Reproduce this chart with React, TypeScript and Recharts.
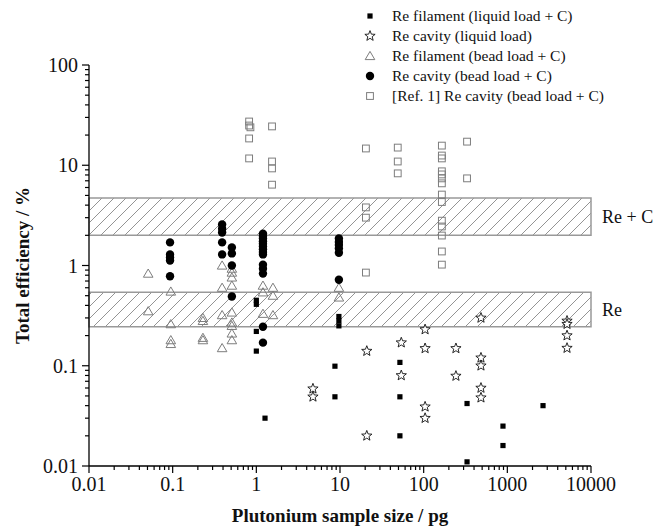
import React from 'react';
import { ScatterChart, Scatter, XAxis, YAxis, ReferenceArea, Legend } from 'recharts';

const FONT = '"Liberation Serif", "Times New Roman", serif';

// tick labels
const xTickLabels = ['0.01', '0.1', '1', '10', '100', '1000', '10000'];
const yTickLabels = ['0.01', '0.1', '1', '10', '100'];

// efficiency bands (%)
const reCBand = [2.0, 4.7];
const reBand = [0.245, 0.54];

// [sample size pg, efficiency %]
const filamentLiquid = [
  [1.0, 0.45], [1.0, 0.41], [1.0, 0.22], [1.0, 0.14], [1.27, 0.03],
  [8.7, 0.099], [8.7, 0.049], [9.7, 0.31], [9.7, 0.28], [9.7, 0.25],
  [52, 0.108], [52, 0.049], [52, 0.02], [330, 0.042], [330, 0.011],
  [887, 0.025], [887, 0.016], [2670, 0.04],
];
const cavityLiquid = [
  [4.75, 0.059], [4.75, 0.049], [20.9, 0.14], [20.9, 0.02], [54, 0.17], [54, 0.08],
  [104, 0.23], [104, 0.149], [104, 0.039], [104, 0.03], [243, 0.149], [243, 0.079],
  [484, 0.3], [484, 0.12], [484, 0.1], [484, 0.06], [484, 0.048],
  [5170, 0.28], [5170, 0.26], [5170, 0.2], [5170, 0.15],
];
const filamentBead = [
  [0.051, 0.83], [0.051, 0.35],
  [0.095, 0.55], [0.095, 0.26], [0.095, 0.18], [0.095, 0.165],
  [0.23, 0.3], [0.23, 0.28], [0.23, 0.19], [0.23, 0.18],
  [0.39, 1.0], [0.39, 0.6], [0.39, 0.32], [0.39, 0.15],
  [0.51, 0.93], [0.51, 0.85], [0.51, 0.76], [0.51, 0.63], [0.51, 0.34], [0.51, 0.27],
  [0.51, 0.25], [0.51, 0.21], [0.51, 0.18],
  [1.2, 0.63], [1.2, 0.54], [1.2, 0.33], [1.58, 0.6], [1.58, 0.5], [1.58, 0.32],
  [9.7, 0.6], [9.7, 0.48],
];
const cavityBead = [
  [0.093, 1.7], [0.093, 1.29], [0.093, 1.2], [0.093, 1.12], [0.093, 0.78],
  [0.39, 2.56], [0.39, 2.33], [0.39, 2.13], [0.39, 1.7], [0.39, 1.29],
  [0.51, 1.51], [0.51, 1.32], [0.51, 1.0], [0.51, 0.49],
  [1.2, 2.08], [1.2, 1.97], [1.2, 1.86], [1.2, 1.75], [1.2, 1.65], [1.2, 1.55], [1.2, 1.45],
  [1.2, 1.36], [1.2, 1.29], [1.2, 1.02], [1.2, 0.93], [1.2, 0.83], [1.2, 0.245], [1.2, 0.17],
  [9.7, 1.86], [9.7, 1.72], [9.7, 1.6], [9.7, 1.48], [9.7, 1.34], [9.7, 0.72],
];
const ref1Cavity = [
  [0.82, 27.3], [0.82, 24.9], [0.85, 23.9], [0.82, 18.5], [0.82, 11.7],
  [1.54, 24.4], [1.54, 10.9], [1.54, 9.3], [1.54, 6.4],
  [20.4, 14.7], [20.4, 3.8], [20.4, 3.0], [20.4, 0.85],
  [49, 15.0], [49, 10.9], [49, 8.3],
  [165, 15.7], [165, 12.5], [165, 11.7], [165, 8.7], [165, 8.1], [165, 7.4], [165, 6.6],
  [165, 5.1], [165, 4.3], [165, 2.8], [165, 2.45], [165, 1.99], [165, 1.38], [165, 1.02],
  [330, 17.2], [330, 7.4],
];

const toRows = (arr: number[][]) => arr.map(([x, y]) => ({ x, y }));

function logTicks(labels: string[]) {
  const out: number[] = [];
  labels.forEach((l, i) => {
    const base = Number(l);
    if (i === labels.length - 1) { out.push(base); return; }
    for (let m = 1; m < 10; m++) out.push(Number((base * m).toPrecision(3)));
  });
  return out;
}

const GRAY = '#7d7d7d';
const txt = { fontFamily: FONT };

const starPath = (cx: number, cy: number, ro: number, ri: number) => {
  let d = '';
  for (let i = 0; i < 10; i++) {
    const r = i % 2 === 0 ? ro : ri;
    const a = -Math.PI / 2 + (i * Math.PI) / 5;
    d += (i === 0 ? 'M' : 'L') + (cx + r * Math.cos(a)).toFixed(2) + ',' + (cy + r * Math.sin(a)).toFixed(2);
  }
  return d + 'Z';
};

const Marker = ({ kind, cx, cy }: { kind: string; cx: number; cy: number }) => {
  if (kind === 'fsq') return <rect x={cx - 2.6} y={cy - 2.6} width={5.2} height={5.2} fill="#000" />;
  if (kind === 'star') return <path d={starPath(cx, cy, 5.4, 2.3)} fill="#fff" stroke="#111" strokeWidth={0.9} />;
  if (kind === 'tri')
    return <path d={`M${cx},${cy - 4.6}L${cx + 4.8},${cy + 3.6}L${cx - 4.8},${cy + 3.6}Z`} fill="none" stroke={GRAY} strokeWidth={1} />;
  if (kind === 'dot') return <circle cx={cx} cy={cy} r={4.2} fill="#000" />;
  return <rect x={cx - 3.4} y={cy - 3.4} width={6.8} height={6.8} fill="none" stroke={GRAY} strokeWidth={1} />;
};

const series = [
  { name: 'Re filament (liquid load + C)', kind: 'fsq', data: filamentLiquid },
  { name: 'Re cavity (liquid load)', kind: 'star', data: cavityLiquid },
  { name: 'Re filament (bead load + C)', kind: 'tri', data: filamentBead },
  { name: 'Re cavity (bead load + C)', kind: 'dot', data: cavityBead },
  { name: '[Ref. 1] Re cavity (bead load + C)', kind: 'osq', data: ref1Cavity },
];

const XTick = (props: any) => {
  const { x, y, payload } = props;
  const major = xTickLabels.includes(String(payload.value));
  return (
    <g>
      <line x1={x} y1={y} x2={x} y2={y + (major ? 7 : 4)} stroke="#000" strokeWidth={1.2} />
      {major && (
        <text x={x} y={y + 25} textAnchor="middle" fontSize={20} style={txt} fill="#111">
          {String(payload.value)}
        </text>
      )}
    </g>
  );
};

const YTick = (props: any) => {
  const { x, y, payload } = props;
  const major = yTickLabels.includes(String(payload.value));
  return (
    <g>
      <line x1={x} y1={y} x2={x - (major ? 7 : 4)} y2={y} stroke="#000" strokeWidth={1.2} />
      {major && (
        <text x={x - 11} y={y + 7} textAnchor="end" fontSize={20} style={txt} fill="#111">
          {String(payload.value)}
        </text>
      )}
    </g>
  );
};

const renderLegend = () => (
  <div style={{ fontFamily: FONT, fontSize: 15.5, color: '#111' }}>
    {series.map((s) => (
      <div key={s.name} style={{ display: 'flex', alignItems: 'center', height: 20, whiteSpace: 'nowrap' }}>
        <svg width={12} height={12} style={{ display: 'block' }}>
          <Marker kind={s.kind} cx={6} cy={6} />
        </svg>
        <span style={{ marginLeft: 16 }}>{s.name}</span>
      </div>
    ))}
  </div>
);

export default function App() {
  return (
    <div style={{ position: 'absolute', left: 0, top: 0, background: '#fff' }}>
      <ScatterChart width={658} height={530} margin={{ top: 65, right: 67, bottom: 0, left: 29 }}>
        <defs>
          <pattern id="hatch" patternUnits="userSpaceOnUse" width={12} height={12}>
            <path d="M-3,3L3,-3M0,12L12,0M9,15L15,9" stroke="#888" strokeWidth={0.9} />
          </pattern>
        </defs>
        <XAxis
          type="number"
          dataKey="x"
          scale="log"
          domain={[0.01, 10000]}
          allowDataOverflow
          ticks={logTicks(xTickLabels)}
          interval={0}
          tickSize={0}
          tickMargin={0}
          tickLine={false}
          tick={<XTick />}
          height={64}
          axisLine={{ stroke: '#000', strokeWidth: 1.3 }}
          label={{
            content: (p: any) => {
              const vb = p.viewBox;
              return (
                <text
                  x={vb.x + vb.width / 2}
                  y={vb.y + vb.height - 8}
                  textAnchor="middle"
                  fontSize={19}
                  fontWeight="bold"
                  style={txt}
                  fill="#111"
                >
                  Plutonium sample size / pg
                </text>
              );
            },
          }}
        />
        <YAxis
          type="number"
          dataKey="y"
          scale="log"
          domain={[0.01, 100]}
          allowDataOverflow
          ticks={logTicks(yTickLabels)}
          interval={0}
          tickSize={0}
          tickMargin={0}
          tickLine={false}
          tick={<YTick />}
          width={60}
          axisLine={{ stroke: '#000', strokeWidth: 1.3 }}
          label={{
            content: (p: any) => {
              const vb = p.viewBox;
              const cy = vb.y + vb.height / 2;
              return (
                <text
                  x={22}
                  y={cy}
                  transform={`rotate(-90, 22, ${cy})`}
                  textAnchor="middle"
                  dy={7}
                  fontSize={19}
                  fontWeight="bold"
                  style={txt}
                  fill="#111"
                >
                  Total efficiency / %
                </text>
              );
            },
          }}
        />
        <ReferenceArea
          y1={reCBand[0]}
          y2={reCBand[1]}
          fill="url(#hatch)"
          fillOpacity={1}
          stroke="#999"
          strokeWidth={1.5}
          label={{ value: 'Re + C', position: 'right', offset: 11, fontSize: 18, style: txt, fill: '#111' }}
        />
        <ReferenceArea
          y1={reBand[0]}
          y2={reBand[1]}
          fill="url(#hatch)"
          fillOpacity={1}
          stroke="#999"
          strokeWidth={1.5}
          label={{ value: 'Re', position: 'right', offset: 11, fontSize: 18, style: txt, fill: '#111' }}
        />
        {series.map((s) => (
          <Scatter
            key={s.name}
            name={s.name}
            data={toRows(s.data)}
            isAnimationActive={false}
            shape={(p: any) => <Marker kind={s.kind} cx={p.cx} cy={p.cy} />}
          />
        ))}
        <Legend
          layout="vertical"
          align="center"
          verticalAlign="middle"
          content={renderLegend}
          wrapperStyle={{ left: 364, top: 6, width: 'auto' }}
        />
      </ScatterChart>
    </div>
  );
}
